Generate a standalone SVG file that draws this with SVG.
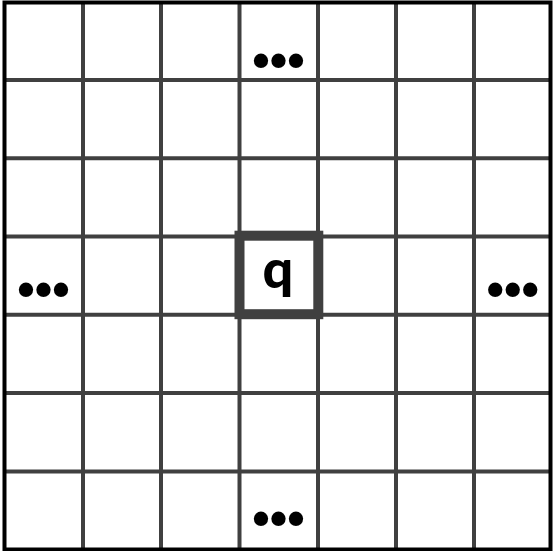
<svg xmlns="http://www.w3.org/2000/svg" width="554" height="551" viewBox="0 0 554 551">
<style>
.g{stroke:#404040;stroke-width:4;fill:none}
.dots{font-family:"Liberation Sans",Arial,sans-serif;font-weight:700;font-size:50px;fill:#000;text-anchor:middle}
.q{font-family:Lato,"DejaVu Sans",sans-serif;font-weight:900;font-size:54px;fill:#000;text-anchor:middle}
</style>
<rect width="554" height="551" fill="#fff"/>
<g id="connectors">
<g class="g">
<line x1="83" y1="2" x2="83" y2="550"/>
<line x1="161" y1="2" x2="161" y2="550"/>
<line x1="239.5" y1="2" x2="239.5" y2="550"/>
<line x1="318" y1="2" x2="318" y2="550"/>
<line x1="396" y1="2" x2="396" y2="550"/>
<line x1="474" y1="2" x2="474" y2="550"/>
<line x1="4" y1="80" x2="551" y2="80"/>
<line x1="4" y1="158.3" x2="551" y2="158.3"/>
<line x1="4" y1="236.5" x2="551" y2="236.5"/>
<line x1="4" y1="314.8" x2="551" y2="314.8"/>
<line x1="4" y1="393" x2="551" y2="393"/>
<line x1="4" y1="471.5" x2="551" y2="471.5"/>
</g>
<rect x="4.5" y="2.5" width="546" height="547" fill="none" stroke="#000" stroke-width="4"/>
</g>
<g id="node-q">
<rect x="239.5" y="235.7" width="78.8" height="78.5" fill="none" stroke="#404040" stroke-width="10"/>
<text class="q" x="278" y="288">q</text>
</g>
<g id="dots-top"><text class="dots" x="278.5" y="77">•••</text></g>
<g id="dots-left"><text class="dots" x="43.5" y="306">•••</text></g>
<g id="dots-right"><text class="dots" x="512.8" y="306">•••</text></g>
<g id="dots-bottom"><text class="dots" x="278.5" y="535">•••</text></g>
</svg>
